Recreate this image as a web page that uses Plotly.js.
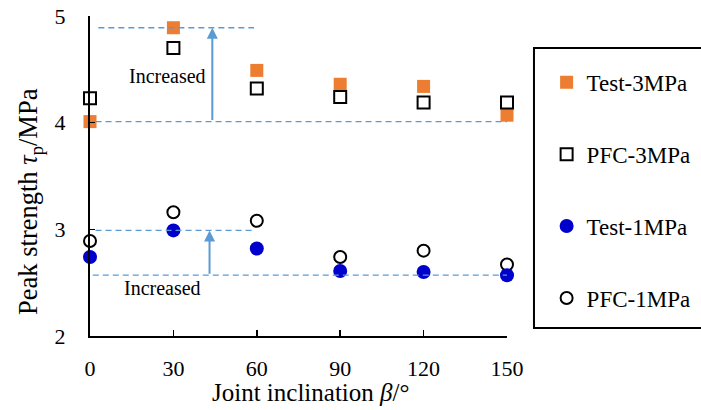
<!DOCTYPE html>
<html>
<head>
<meta charset="utf-8">
<script src="https://cdn.plot.ly/plotly-3.0.1.min.js"></script>
<style>
  html, body { margin: 0; padding: 0; background: #fff; }
  #chart { width: 701px; height: 410px; }
</style>
</head>
<body>
<div id="chart"></div>
<script>
// Joint inclination (degrees)
const inclination = [0, 30, 60, 90, 120, 150];

// Peak shear strength (MPa)
const test3MPa = [4.01, 4.89, 4.49, 4.36, 4.34, 4.07];
const pfc3MPa  = [4.23, 4.70, 4.32, 4.24, 4.19, 4.19];
const test1MPa = [2.74, 2.99, 2.82, 2.61, 2.60, 2.57];
const pfc1MPa  = [2.89, 3.16, 3.08, 2.74, 2.80, 2.67];

const seriesNames = ['Test-3MPa', 'PFC-3MPa', 'Test-1MPa', 'PFC-1MPa'];
const xTicks = [0, 30, 60, 90, 120, 150];
const yTicks = [2, 3, 4, 5];

const FONT = '"Liberation Serif", "Times New Roman", serif';
const ORANGE = '#ED7D31';
const BLUE = '#0000CC';
const GUIDE = '#5B9BD5';

const traces = [
  {
    x: inclination, y: test3MPa, name: seriesNames[0], legendrank: 1, legendgroup: 'a',
    type: 'scatter', mode: 'markers', cliponaxis: false,
    marker: { symbol: 'square', size: 13, color: ORANGE }
  },
  {
    x: inclination, y: pfc3MPa, name: seriesNames[1], legendrank: 2, legendgroup: 'b',
    type: 'scatter', mode: 'markers', cliponaxis: false,
    marker: { symbol: 'square-open', size: 12, color: '#000', line: { width: 2, color: '#000' } }
  },
  {
    x: inclination, y: pfc1MPa, name: seriesNames[3], legendrank: 4, legendgroup: 'd',
    type: 'scatter', mode: 'markers', cliponaxis: false,
    marker: { symbol: 'circle-open', size: 12, color: '#000', line: { width: 2, color: '#000' } }
  },
  {
    x: inclination, y: test1MPa, name: seriesNames[2], legendrank: 3, legendgroup: 'c',
    type: 'scatter', mode: 'markers', cliponaxis: false,
    marker: { symbol: 'circle', size: 14, color: BLUE }
  }
];

// Reference levels for the strength gain between 0° and 30°
const hi3 = test3MPa[1], lo3 = test3MPa[0];
const hi1 = test1MPa[1], lo1 = Math.min(...test1MPa);

function guide(x0, x1, y) {
  return {
    type: 'line', xref: 'x', yref: 'y', x0: x0, x1: x1, y0: y, y1: y,
    line: { color: GUIDE, width: 1.3, dash: '6px,4px' }
  };
}

const shapes = [
  guide(3, 59, hi3),
  guide(2, 152, lo3),
  guide(2, 59, hi1),
  guide(1, 152, lo1),
  // legend frame
  {
    type: 'rect', xref: 'paper', yref: 'paper',
    x0: 1.0647, x1: 1.6, y0: 0.025, y1: 0.9,
    line: { color: '#000', width: 2 }, fillcolor: 'rgba(0,0,0,0)'
  }
];

function arrow(x, y0, y1) {
  return {
    x: x, y: y1, ax: x, ay: y0, xref: 'x', yref: 'y', axref: 'x', ayref: 'y',
    text: '', showarrow: true, arrowhead: 2, arrowsize: 1.1, arrowwidth: 2,
    arrowcolor: GUIDE, standoff: 0, startstandoff: 0
  };
}

const annotations = [
  arrow(44, lo3, hi3),
  arrow(43, lo1, hi1),
  {
    x: 28, y: 4.44, xref: 'x', yref: 'y', text: 'Increased', showarrow: false,
    font: { family: FONT, size: 20, color: '#000' }
  },
  {
    x: 26, y: 2.45, xref: 'x', yref: 'y', text: 'Increased', showarrow: false,
    font: { family: FONT, size: 20, color: '#000' }
  },
  // axis titles
  {
    x: 0.5276, y: -0.175, xref: 'paper', yref: 'paper', xanchor: 'center', yanchor: 'middle',
    text: 'Joint inclination <i>β</i>/°', showarrow: false,
    font: { family: FONT, size: 25, color: '#000' }
  },
  {
    x: -0.144, y: 0.422, xref: 'paper', yref: 'paper', xanchor: 'center', yanchor: 'middle',
    text: 'Peak strength <i>τ</i><sub>p</sub>/MPa', showarrow: false, textangle: -90,
    font: { family: FONT, size: 26.5, color: '#000' }
  }
];

const layout = {
  width: 701, height: 410,
  margin: { l: 90, r: 194, t: 16, b: 74, autoexpand: false },
  paper_bgcolor: '#fff', plot_bgcolor: '#fff',
  font: { family: FONT, size: 22, color: '#000' },
  showlegend: true,
  legend: {
    x: 1.095, y: 0.86, xanchor: 'left', yanchor: 'top',
    bgcolor: 'rgba(0,0,0,0)', borderwidth: 0,
    traceorder: 'grouped', tracegroupgap: 39,
    font: { family: FONT, size: 23, color: '#000' }
  },
  xaxis: {
    range: [0, 150], tickvals: xTicks, ticktext: xTicks.map(String),
    showline: true, linecolor: '#000', linewidth: 2,
    ticks: 'inside', ticklen: 6, tickwidth: 1.5, tickcolor: '#000',
    showgrid: false, zeroline: false, ticklabelstandoff: 12,
    tickfont: { family: FONT, size: 22, color: '#000' }
  },
  yaxis: {
    range: [2, 5], tickvals: yTicks, ticktext: yTicks.map(String),
    showline: true, linecolor: '#000', linewidth: 2,
    ticks: 'inside', ticklen: 5, tickwidth: 1.5, tickcolor: '#000',
    showgrid: false, zeroline: false, ticklabelstandoff: 18,
    tickfont: { family: FONT, size: 22, color: '#000' }
  },
  shapes: shapes,
  annotations: annotations
};

Plotly.newPlot('chart', traces, layout, { displayModeBar: false, staticPlot: true });
</script>
</body>
</html>
